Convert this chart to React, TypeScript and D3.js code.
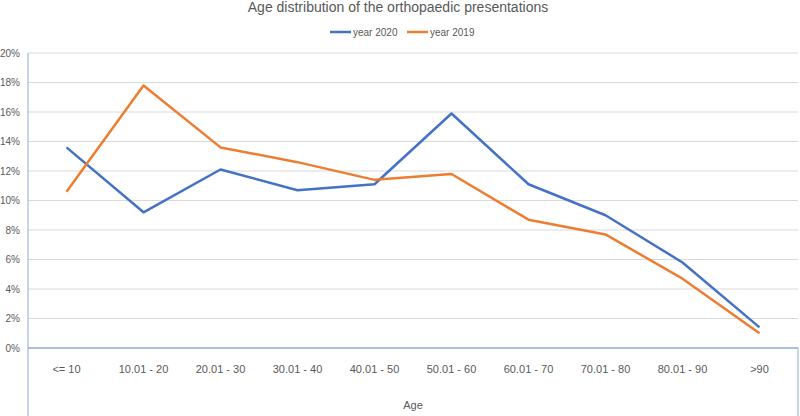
import React from "react";
import * as d3 from "d3";

const categories = ["<= 10", "10.01 - 20", "20.01 - 30", "30.01 - 40", "40.01 - 50", "50.01 - 60", "60.01 - 70", "70.01 - 80", "80.01 - 90", ">90"];
const year2020 = [13.6, 9.2, 12.1, 10.7, 11.1, 15.9, 11.1, 9.0, 5.8, 1.4];
const year2019 = [10.6, 17.8, 13.6, 12.6, 11.4, 11.8, 8.7, 7.7, 4.7, 1.0];
const yTicks = [0, 2, 4, 6, 8, 10, 12, 14, 16, 18, 20];
const seriesNames = ["year 2020", "year 2019"];
const seriesColors = ["#4472C4", "#ED7D31"];

const W = 800, H = 416;
const left = 28, right = 798, top = 53, bottom = 348;
const font = "'Liberation Sans Narrow', 'Arial Narrow', 'Liberation Sans', sans-serif";

export default function App() {
  const x = d3.scaleBand<string>().domain(categories).range([left, right]);
  const y = d3.scaleLinear().domain([0, 20]).range([bottom, top]);
  const line = d3.line<number>().x((_, i) => (x(categories[i]) as number) + x.bandwidth() / 2).y(d => y(d));
  const series = [year2020, year2019];
  return (
    <svg width={W} height={H} style={{ position: "absolute", left: 0, top: 0, background: "#fff" }} fontFamily={font}>
      <text x={398} y={12} textAnchor="middle" fontSize={14} fill="#595959">Age distribution of the orthopaedic presentations</text>
      {seriesNames.map((n, i) => {
        const lx = 330 + i * 77;
        return (
          <g key={n}>
            <line x1={lx} x2={lx + 21} y1={32} y2={32} stroke={seriesColors[i]} strokeWidth={2.5} />
            <text x={lx + 23} y={35.5} fontSize={10} fill="#595959">{n}</text>
          </g>
        );
      })}
      {yTicks.map(t => (
        <g key={t}>
          {t > 0 && <line x1={left} x2={right} y1={y(t)} y2={y(t)} stroke="#D9D9D9" strokeWidth={1} />}
          <text x={20} y={y(t) + 3.5} textAnchor="end" fontSize={10} fill="#595959">{t}%</text>
        </g>
      ))}
      <line x1={left} x2={left} y1={top} y2={H} stroke="#8FAADC" strokeWidth={1} />
      <line x1={right} x2={right} y1={bottom} y2={H} stroke="#8FAADC" strokeWidth={1} />
      <line x1={left} x2={right} y1={bottom} y2={bottom} stroke="#8FAADC" strokeWidth={1.5} />
      {categories.map(c => (
        <text key={c} x={(x(c) as number) + x.bandwidth() / 2} y={373} textAnchor="middle" fontSize={11} fill="#595959">{c}</text>
      ))}
      <text x={413} y={409} textAnchor="middle" fontSize={11} fill="#595959">Age</text>
      {series.map((s, i) => (
        <path key={i} d={line(s) as string} fill="none" stroke={seriesColors[i]} strokeWidth={2.5} strokeLinejoin="round" />
      ))}
    </svg>
  );
}
